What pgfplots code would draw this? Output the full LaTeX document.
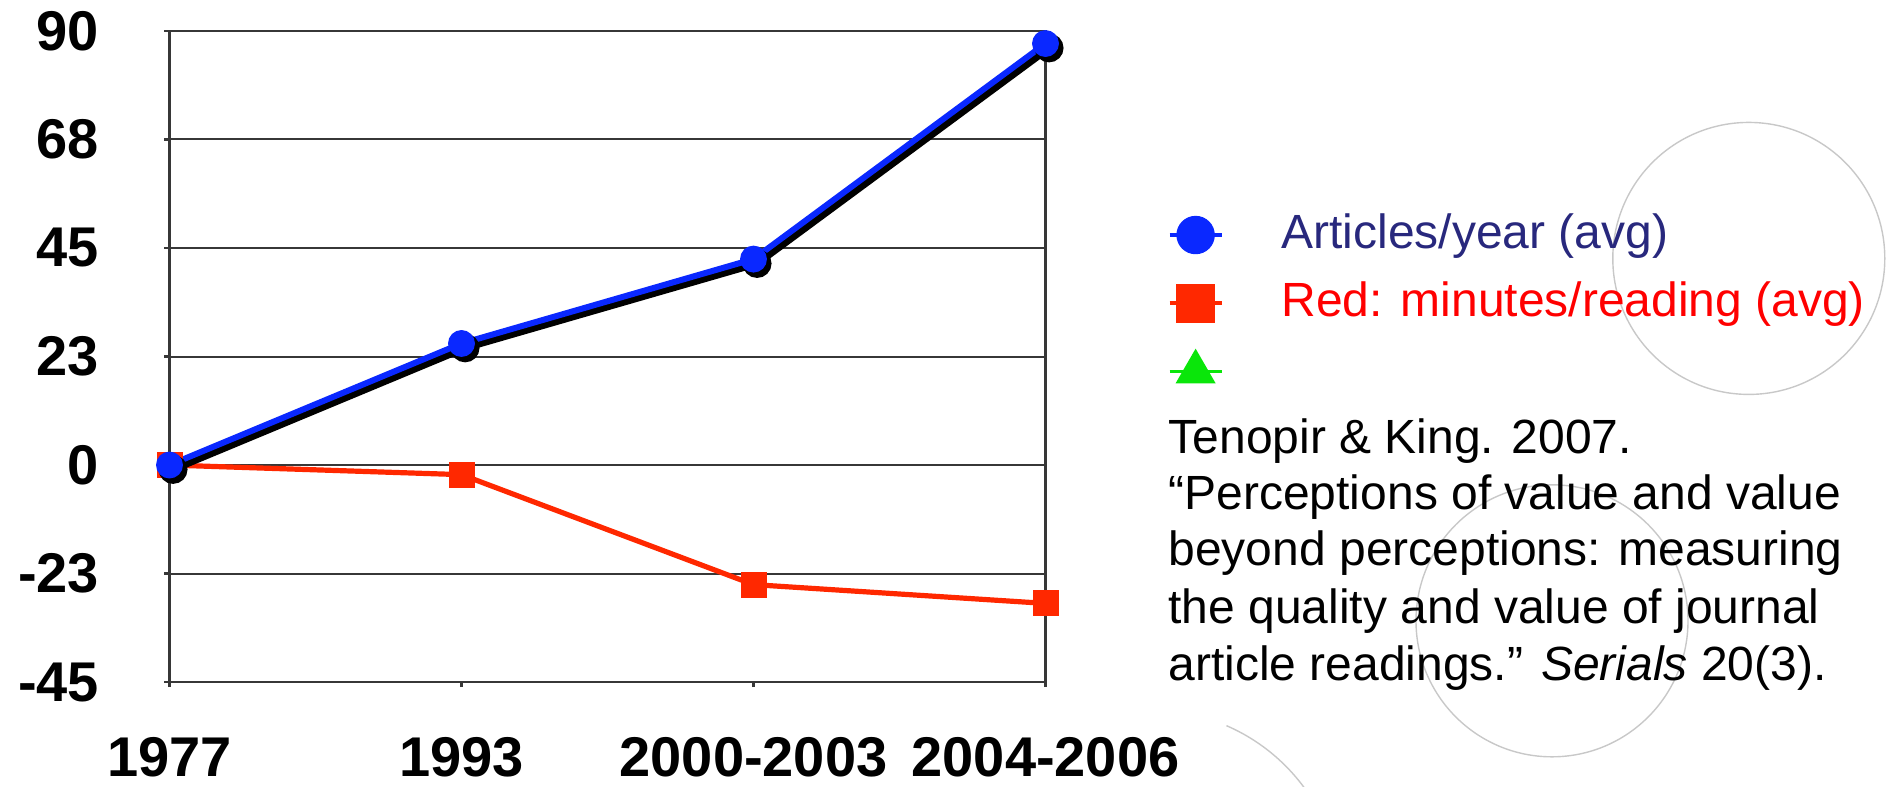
\documentclass[border=0pt]{standalone}
\usepackage{fontspec}
\setmainfont{Liberation Sans}
\usepackage{pgfplots}
\pgfplotsset{compat=1.18}
\definecolor{blueline}{RGB}{10,40,255}
\definecolor{redline}{RGB}{255,40,0}
\definecolor{navytext}{RGB}{40,40,125}
\definecolor{redtext}{RGB}{255,0,0}
\definecolor{greenmark}{RGB}{10,230,10}
\definecolor{gridgray}{RGB}{55,55,55}
\definecolor{circgray}{RGB}{200,200,200}
\begin{document}
\begin{tikzpicture}
% decorative background circles
\draw[circgray, line width=0.35pt] (437.2pt,-64.6pt) circle (34pt);
\draw[circgray, line width=0.35pt] (388pt,-155.2pt) circle (34pt);
\draw[circgray, line width=0.35pt] ([shift={(66.6:47.5pt)}]287.75pt,-225pt) arc (66.6:20:47.5pt);

\begin{axis}[
  at={(42.375pt,-170.5pt)}, anchor=south west,
  width=219pt, height=162.75pt, scale only axis,
  xmin=0, xmax=3, ymin=-45, ymax=90,
  xtick={0,1,2,3}, xticklabels={1977,1993,2000-2003,2004-2006},
  ytick={-45,-22.5,0,22.5,45,67.5,90}, yticklabels={-45,-23,0,23,45,68,90},
  ymajorgrids, grid style={gridgray, line width=0.5pt},
  axis line style={gridgray, line width=0.6pt},
  tick style={gridgray, line width=0.6pt},
  major tick length=1.3pt, tick align=outside,
  xtick pos=bottom, ytick pos=left,
  tick label style={font=\fontsize{14}{16}\selectfont\bfseries},
  /pgf/number format/assume math mode=true,
  yticklabel style={anchor=east, inner sep=0pt, xshift=-16.1pt},
  xticklabel style={anchor=north, inner sep=0pt, yshift=-12.3pt},
  clip=false,
  legend cell align=left,
  legend style={at={(1.1394,0.7253)}, anchor=north west, draw=none, fill=none,
    inner sep=0pt, outer sep=0pt, row sep=4.5pt, column sep=14.5pt,
    font=\fontsize{12}{14}\selectfont,
    nodes={inner sep=0pt, text height=9.6pt, text depth=3pt}},
]
\addplot[redline, line width=1.3pt, mark=square*, mark size=2.6pt, mark options={solid}, forget plot]
  coordinates {(0,0) (1,-2) (2,-24.8) (3,-28.7)};
\addplot[black, line width=1.8pt, mark=*, mark size=2.7pt, xshift=0.9pt, yshift=-1.1pt, forget plot]
  coordinates {(0,0) (1,25.2) (2,42.7) (3,87.4)};
\addplot[blueline, line width=1.5pt, mark=*, mark size=2.6pt, forget plot]
  coordinates {(0,0) (1,25.2) (2,42.7) (3,87.4)};

\addlegendimage{blueline, line width=1pt, mark=*, mark size=4.3pt, mark options={solid},
  legend image code/.code={\draw[mark repeat=2,mark phase=2] plot coordinates {(0pt,0pt)(6.5pt,0pt)(13pt,0pt)};}}
\addlegendentry{\textcolor{navytext}{Articles/year (avg)}}
\addlegendimage{redline, line width=1pt, mark=square*, mark size=4.3pt, mark options={solid},
  legend image code/.code={\draw[mark repeat=2,mark phase=2] plot coordinates {(0pt,0pt)(6.5pt,0pt)(13pt,0pt)};}}
\addlegendentry{\textcolor{redtext}{Red: minutes/reading (avg)}}
\addlegendimage{greenmark, line width=0.8pt, mark=triangle*, mark size=5pt, mark options={solid},
  legend image code/.code={\draw[mark repeat=2,mark phase=2] plot coordinates {(0pt,0pt)(6.5pt,0pt)(13pt,0pt)};}}
\addlegendentry{}
\end{axis}

\begin{scope}[every node/.style={anchor=base west, inner sep=0pt, font=\fontsize{12}{14}\selectfont}]
\node at (291.95pt,-113.3pt) {Tenopir \& King. 2007.};
\node at (291.95pt,-127.3pt) {“Perceptions of value and value};
\node at (291.95pt,-141.45pt) {beyond perceptions: measuring};
\node at (291.95pt,-155.8pt) {the quality and value of journal};
\node at (291.95pt,-170.2pt) {article readings.” \textit{Serials} 20(3).};
\end{scope}

\pgfresetboundingbox
\useasboundingbox (0pt,0pt) rectangle (471.75pt,-196.5pt);
\end{tikzpicture}
\end{document}
